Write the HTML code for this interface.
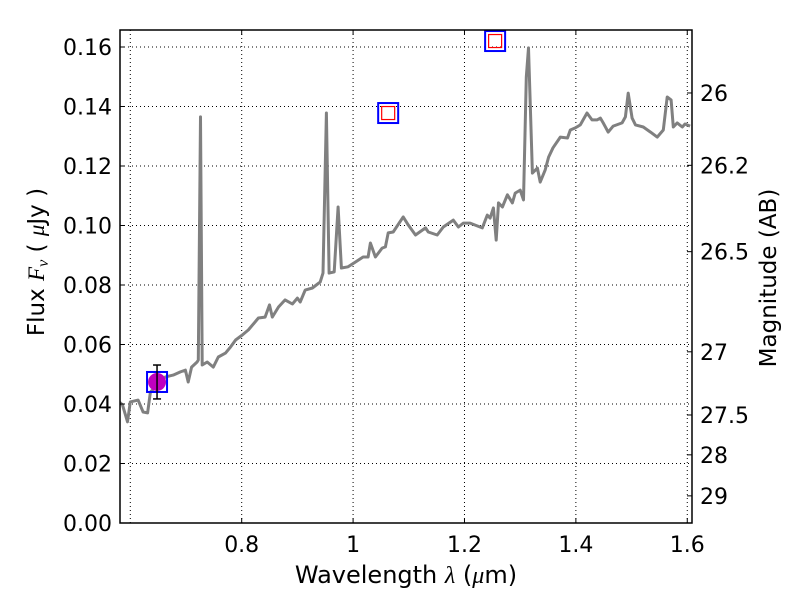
<!DOCTYPE html>
<html><head><meta charset="utf-8"><style>
body{margin:0;background:#fff;width:800px;height:600px;overflow:hidden}
svg{font-family:"DejaVu Sans","Liberation Sans",sans-serif}
</style></head><body>
<svg id="chart" width="800" height="600" xmlns="http://www.w3.org/2000/svg"></svg>
<script>
const wavelength=[0.580,0.586,0.595,0.600,0.614,0.623,0.631,0.636,0.663,0.677,0.690,0.699,0.704,0.710,0.720,0.722,0.726,0.729,0.738,0.749,0.758,0.771,0.780,0.789,0.801,0.812,0.830,0.842,0.850,0.855,0.866,0.878,0.891,0.900,0.905,0.914,0.927,0.941,0.946,0.952,0.957,0.966,0.973,0.979,0.991,1.004,1.018,1.027,1.031,1.040,1.052,1.058,1.063,1.072,1.090,1.099,1.112,1.130,1.135,1.151,1.162,1.180,1.189,1.198,1.210,1.232,1.241,1.246,1.252,1.257,1.261,1.268,1.277,1.286,1.291,1.300,1.306,1.311,1.315,1.322,1.331,1.336,1.345,1.351,1.359,1.372,1.385,1.390,1.399,1.408,1.420,1.429,1.438,1.444,1.449,1.458,1.467,1.483,1.489,1.494,1.501,1.507,1.521,1.534,1.546,1.557,1.564,1.571,1.575,1.582,1.591,1.596,1.605];
const flux=[0.0407,0.0397,0.0340,0.0407,0.0413,0.0373,0.0370,0.0440,0.0491,0.0497,0.0508,0.0514,0.0474,0.0524,0.0541,0.0548,0.1365,0.0531,0.0541,0.0524,0.0558,0.0571,0.0592,0.0615,0.0632,0.0649,0.0689,0.0692,0.0733,0.0692,0.0726,0.0750,0.0736,0.0756,0.0743,0.0783,0.0790,0.0810,0.0840,0.1378,0.0840,0.0844,0.1062,0.0857,0.0861,0.0877,0.0894,0.0894,0.0941,0.0894,0.0924,0.0928,0.0975,0.0978,0.1029,0.1002,0.0968,0.0992,0.0978,0.0968,0.0995,0.1018,0.0995,0.1008,0.1008,0.0992,0.1035,0.1025,0.1059,0.0951,0.1076,0.1062,0.1103,0.1076,0.1109,0.1119,0.1086,0.1499,0.1597,0.1176,0.1193,0.1146,0.1187,0.1230,0.1261,0.1297,0.1294,0.1321,0.1328,0.1338,0.1378,0.1355,0.1355,0.1361,0.1345,0.1314,0.1334,0.1345,0.1365,0.1445,0.1361,0.1338,0.1331,0.1314,0.1297,0.1321,0.1432,0.1422,0.1331,0.1345,0.1331,0.1341,0.1334];
const photWave=[0.648];
const photFlux=[0.0474];
const photErr=[0.0057];
const modelWave=[0.648,1.063,1.255];
const modelFlux=[0.0474,0.1378,0.1620];
const xTicks=[0.8,1.0,1.2,1.4,1.6];
const xTickLabels=["0.8","1","1.2","1.4","1.6"];
const xGrid=[0.6,0.8,1.0,1.2,1.4,1.6];
const yTicks=[0,0.02,0.04,0.06,0.08,0.10,0.12,0.14,0.16];
const magTicks=[26,26.2,26.5,27,27.5,28,29];

const L=120,R=692,T=30,B=523,XMIN=0.5815,XMAX=1.6085,YMIN=0,YMAX=0.16571;
const sx=v=>L+(v-XMIN)/(XMAX-XMIN)*(R-L);
const sy=v=>B-(v-YMIN)/(YMAX-YMIN)*(B-T);
const NS="http://www.w3.org/2000/svg";
const svg=document.getElementById('chart');
function mk(tag,attrs,parent){const e=document.createElementNS(NS,tag);for(const k in attrs)e.setAttribute(k,attrs[k]);(parent||svg).appendChild(e);return e;}
const grid=mk('g',{});


xGrid.forEach(v=>{const l=mk('line',{x1:sx(v),x2:sx(v),y1:T,y2:B,stroke:'#000','stroke-width':1,'stroke-dasharray':'1,3'},grid);

});
yTicks.forEach(v=>{const l=mk('line',{x1:L,x2:R,y1:sy(v),y2:sy(v),stroke:'#000','stroke-width':1,'stroke-dasharray':'1,3'},grid);

});
const clip=mk('clipPath',{id:'cp'});mk('rect',{x:L,y:T,width:R-L,height:B-T},clip);
const pts=wavelength.map((w,i)=>sx(w).toFixed(1)+','+sy(flux[i]).toFixed(1)).join(' ');
const sp=mk('polyline',{points:pts,fill:'none',stroke:'#808080','stroke-width':3,'stroke-linejoin':'round','clip-path':'url(#cp)'});


modelWave.forEach((w,i)=>{const x=sx(w),y=sy(modelFlux[i]);
const o=mk('rect',{x:x-10,y:y-10,width:20,height:20,fill:'none',stroke:'#0000ff','stroke-width':2});


if(i>0){const r=mk('rect',{x:x-6.5,y:y-6.5,width:13,height:13,fill:'none',stroke:'#ff0000','stroke-width':1.2});

}});
photWave.forEach((w,i)=>{const x=sx(w),y=sy(photFlux[i]);
const c=mk('circle',{cx:x,cy:y,r:9,fill:'#bf00bf'});


const y1=sy(photFlux[i]+photErr[i]),y2=sy(photFlux[i]-photErr[i]);
const g=mk('g',{stroke:'#000','stroke-width':1.5});


mk('line',{x1:x,x2:x,y1:y1,y2:y2},g);mk('line',{x1:x-4,x2:x+4,y1:y1,y2:y1},g);mk('line',{x1:x-4,x2:x+4,y1:y2,y2:y2},g);});
const fr=mk('rect',{x:L,y:T,width:R-L,height:B-T,fill:'none',stroke:'#000','stroke-width':1.5});


xTicks.forEach((v,i)=>{const x=sx(v);
mk('line',{x1:x,x2:x,y1:B,y2:B-5,stroke:'#000'});mk('line',{x1:x,x2:x,y1:T,y2:T+5,stroke:'#000'});
const t=mk('text',{x:x,y:B+29,'text-anchor':'middle','font-size':22});t.textContent=xTickLabels[i];

});
yTicks.forEach(v=>{const y=sy(v);
mk('line',{x1:L,x2:L+5,y1:y,y2:y,stroke:'#000'});
const t=mk('text',{x:L-8,y:y+8,'text-anchor':'end','font-size':22});t.textContent=v.toFixed(2);

});
magTicks.forEach(m=>{const y=sy(Math.pow(10,(23.9-m)/2.5));
mk('line',{x1:R,x2:R-5,y1:y,y2:y,stroke:'#000'});
const t=mk('text',{x:R+8,y:y+8,'font-size':22});t.textContent=String(m);

});
</script>
<svg style="position:absolute;left:0;top:0" width="800" height="600">
<text x="406" y="583" text-anchor="middle" font-size="24" font-family="DejaVu Sans, Liberation Sans, sans-serif">Wavelength  <tspan font-style="italic" font-family="Liberation Serif, serif">λ</tspan> (<tspan font-style="italic" font-family="Liberation Serif, serif">μ</tspan>m)</text>
<text transform="translate(44,262) rotate(-90)" text-anchor="middle" font-size="23" font-family="DejaVu Sans, Liberation Sans, sans-serif">Flux  <tspan font-style="italic" font-family="Liberation Serif, serif">F<tspan font-size="16" dy="4">ν</tspan></tspan><tspan dy="-4">  ( </tspan><tspan font-style="italic" font-family="Liberation Serif, serif">μ</tspan>Jy )</text>
<text transform="translate(776,278) rotate(-90)" text-anchor="middle" font-size="23" font-family="DejaVu Sans, Liberation Sans, sans-serif">Magnitude (AB)</text>
</svg>
</body></html>
